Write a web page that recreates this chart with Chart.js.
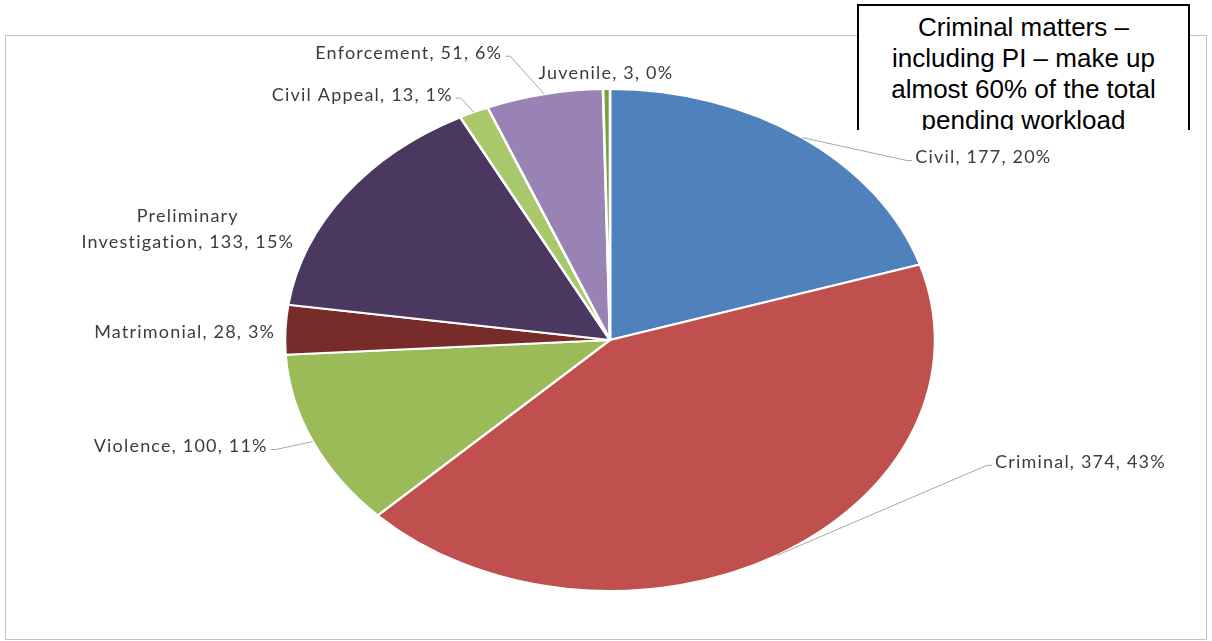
<!DOCTYPE html>
<html>
<head>
<meta charset="utf-8">
<script src="https://cdn.jsdelivr.net/npm/chart.js@4"></script>
<style>
  html, body { margin: 0; padding: 0; background: #fff; }
  #wrap { position: relative; width: 1212px; height: 641px; overflow: hidden; }
  #frame { position: absolute; left: 5px; top: 35px; width: 1200px; height: 603px; border: 1px solid #c4c4c4; }
  #pie { position: absolute; left: 0; top: 0; }
  #note {
    position: absolute; left: 857px; top: 4px; width: 329px; height: 124px;
    border: 2px solid #000; border-bottom: none; background: #fff; overflow: hidden;
    font-family: "Liberation Sans", Arial, sans-serif; font-size: 26px; line-height: 31px;
    text-align: center; color: #000; box-sizing: content-box; padding-top: 0;
  }
  #note div { position: relative; top: 6px; }
</style>
</head>
<body>
<div id="wrap">
  <div id="frame"></div>
  <canvas id="pie" width="1212" height="641"></canvas>
  <div id="note"><div>Criminal matters –<br>including PI – make up<br>almost 60% of the total<br>pending workload</div></div>
</div>
<script>
// Pending cases by type
const categories = ['Civil', 'Criminal', 'Violence', 'Matrimonial', 'Preliminary Investigation', 'Civil Appeal', 'Enforcement', 'Juvenile'];
const pending = [177, 374, 100, 28, 133, 13, 51, 3];
const shares = ['20%', '43%', '11%', '3%', '15%', '1%', '6%', '0%'];

const sliceColors = ['#4F81BD', '#C0504D', '#9BBB59', '#772C2A', '#4B3860', '#A9C86C', '#9983B5', '#77A040'];

// the pie in the picture is an ellipse, wider than tall
const stretchX = 1.295;

// where each label sits relative to the edge of its slice
const labelPlace = [
  { dx: 113, dy: 20, align: 'left', leader: true },
  { dx: 218, dy: -93, align: 'left', leader: true },
  { dx: -45, dy: 5, align: 'right', leader: true },
  { dx: -10, dy: 3, align: 'right', leader: false },
  { dx: -157, dy: 34, align: 'center', leader: false, wrap: true },
  { dx: -21, dy: -17, align: 'right', leader: true },
  { dx: -42, dy: -41, align: 'right', leader: true },
  { dx: -68, dy: -16, align: 'left', leader: false }
];

const ellipsePlugin = {
  id: 'ellipse',
  beforeDatasetsDraw(chart) {
    const arc = chart.getDatasetMeta(0).data[0];
    const ctx = chart.ctx;
    ctx.save();
    ctx.translate(arc.x, arc.y);
    ctx.scale(stretchX, 1);
    ctx.translate(-arc.x, -arc.y);
  },
  afterDatasetsDraw(chart) {
    chart.ctx.restore();
  }
};

const labelPlugin = {
  id: 'sliceLabels',
  afterDraw(chart) {
    const ctx = chart.ctx;
    const arcs = chart.getDatasetMeta(0).data;
    ctx.save();
    ctx.font = '18px Lato, "DejaVu Sans", sans-serif';
    ctx.letterSpacing = '1.2px';
    ctx.fillStyle = '#3c3c3c';
    ctx.strokeStyle = '#a6a6a6';
    ctx.lineWidth = 1;
    ctx.textBaseline = 'middle';
    arcs.forEach((arc, i) => {
      const mid = (arc.startAngle + arc.endAngle) / 2;
      const r = arc.outerRadius;
      const ax = arc.x + stretchX * r * Math.cos(mid);
      const ay = arc.y + r * Math.sin(mid);
      const p = labelPlace[i];
      const tx = ax + p.dx;
      const ty = ay + p.dy;
      const text = categories[i] + ', ' + pending[i] + ', ' + shares[i];
      ctx.textAlign = p.align;
      if (p.wrap) {
        const parts = categories[i].split(' ');
        ctx.fillText(parts[0], tx, ty - 13);
        ctx.fillText(parts.slice(1).join(' ') + ', ' + pending[i] + ', ' + shares[i], tx, ty + 13);
      } else {
        ctx.fillText(text, tx, ty);
      }
      if (p.leader) {
        const side = p.align === 'left' ? -1 : 1;
        ctx.beginPath();
        ctx.moveTo(ax, ay);
        ctx.lineTo(tx + side * 8, ty + 3);
        ctx.lineTo(tx + side * 3, ty + 3);
        ctx.stroke();
      }
    });
    ctx.restore();
  }
};

new Chart(document.getElementById('pie'), {
  type: 'pie',
  data: {
    labels: categories,
    datasets: [{
      data: pending,
      backgroundColor: sliceColors,
      borderColor: '#ffffff',
      borderWidth: 2,
      clip: false
    }]
  },
  options: {
    responsive: false,
    animation: false,
    devicePixelRatio: 1,
    layout: { padding: { top: 88, bottom: 49, left: 300, right: 292 } },
    plugins: {
      legend: { display: false },
      tooltip: { enabled: false }
    }
  },
  plugins: [ellipsePlugin, labelPlugin]
});
</script>
</body>
</html>
